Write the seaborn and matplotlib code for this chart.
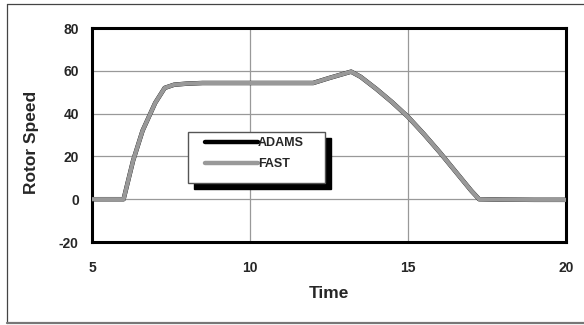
import matplotlib
matplotlib.use("Agg")
import matplotlib.pyplot as plt
from matplotlib.patches import Rectangle
from matplotlib.lines import Line2D
import seaborn as sns
import pandas as pd

# ---- data ----
time = [5.0, 6.0, 6.3, 6.6, 7.0, 7.3, 7.6, 8.0, 8.5, 9.0, 10.0, 11.0, 12.0,
        12.5, 13.2, 13.5, 14.0, 14.5, 15.0, 15.5, 16.0, 16.5, 17.0, 17.25,
        18.0, 19.0, 20.0]
adams = [0, 0, 18, 32, 45, 52, 53.5, 54, 54.3, 54.3, 54.3, 54.3, 54.3,
         56.6, 59.6, 57.2, 51.5, 45.3, 38.5, 30.5, 22, 13, 4, 0,
         -0.2, -0.3, -0.3]
fast = [0, 0, 18, 32, 45, 52, 53.5, 54, 54.3, 54.3, 54.3, 54.3, 54.3,
        56.6, 59.6, 57.2, 51.5, 45.3, 38.5, 30.5, 22, 13, 4, 0,
        -0.2, -0.3, -0.3]
series_names = ["ADAMS", "FAST"]
x_ticks = [5, 10, 15, 20]
y_ticks = [-20, 0, 20, 40, 60, 80]

sns.set_theme(style="white")
plt.rcParams["font.family"] = ["Liberation Sans", "DejaVu Sans"]
plt.rcParams["font.weight"] = "bold"

df = pd.DataFrame({"Time": time * 2,
                   "Rotor Speed": adams + fast,
                   "Series": [series_names[0]] * len(time) + [series_names[1]] * len(time)})

W, H = 584, 325
fig = plt.figure(figsize=(W / 100, H / 100), dpi=100)
ax = fig.add_axes([92 / W, (H - 242) / H, 474 / W, 214 / H])

sns.lineplot(data=df[df.Series == "ADAMS"], x="Time", y="Rotor Speed", ax=ax,
             color="black", linewidth=3.2, zorder=3, legend=False)
sns.lineplot(data=df[df.Series == "FAST"], x="Time", y="Rotor Speed", ax=ax,
             color="#999999", linewidth=3.0, zorder=4, legend=False)

ax.set_xlim(5, 20)
ax.set_ylim(-20, 80)
ax.set_xticks(x_ticks)
ax.set_yticks(y_ticks)
ax.set_xticklabels([str(t) for t in x_ticks], fontsize=10, fontweight="bold")
ax.set_yticklabels([str(t) for t in y_ticks], fontsize=10, fontweight="bold")
ax.tick_params(axis="x", length=0, pad=14)
ax.tick_params(axis="y", length=0, pad=9.5)

for v in [10, 15]:
    ax.axvline(v, color="#999999", lw=0.9, zorder=1)
for v in [0, 20, 40, 60]:
    ax.axhline(v, color="#999999", lw=0.9, zorder=1)

for s in ax.spines.values():
    s.set_color("black")
    s.set_linewidth(2.2)
    s.set_visible(True)

ax.set_xlabel("Time", fontsize=12.5, fontweight="bold")
ax.set_ylabel("Rotor Speed", fontsize=12.5, fontweight="bold")
ax.xaxis.set_label_coords(0.5, -0.205)
ax.yaxis.set_label_coords(-0.112, 0.467)

# legend box with solid shadow
bx0, by0 = (188 - 92) / 474, (242 - 183) / 214
bw, bh = 137 / 474, 51 / 214
ax.add_patch(Rectangle((bx0 + 6 / 474, by0 - 6 / 214), bw, bh, transform=ax.transAxes,
                       facecolor="black", edgecolor="black", zorder=6))
ax.add_patch(Rectangle((bx0, by0), bw, bh, transform=ax.transAxes,
                       facecolor="white", edgecolor="#555555", lw=1.0, zorder=7))
handles = [Line2D([], [], color="black", lw=3.2), Line2D([], [], color="#999999", lw=3.2)]
leg = ax.legend(handles, series_names, loc="upper left",
                bbox_to_anchor=((205 - 92) / 474, (242 - 137) / 214),
                frameon=False, borderpad=0, borderaxespad=0, handlelength=4.2,
                handletextpad=0.05, labelspacing=0.75,
                prop={"size": 9, "weight": "bold"})
leg.set_zorder(8)

# outer border
fig.add_artist(Line2D([7 / W, 1.0], [(H - 4) / H] * 2, transform=fig.transFigure, color="#444444", lw=0.9))
fig.add_artist(Line2D([7 / W] * 2, [(H - 4) / H, (H - 323) / H], transform=fig.transFigure, color="#444444", lw=0.9))
fig.add_artist(Line2D([7 / W, 1.0], [(H - 323) / H] * 2, transform=fig.transFigure, color="#777777", lw=1.6))

fig.savefig("out.png", dpi=100, facecolor="white")
